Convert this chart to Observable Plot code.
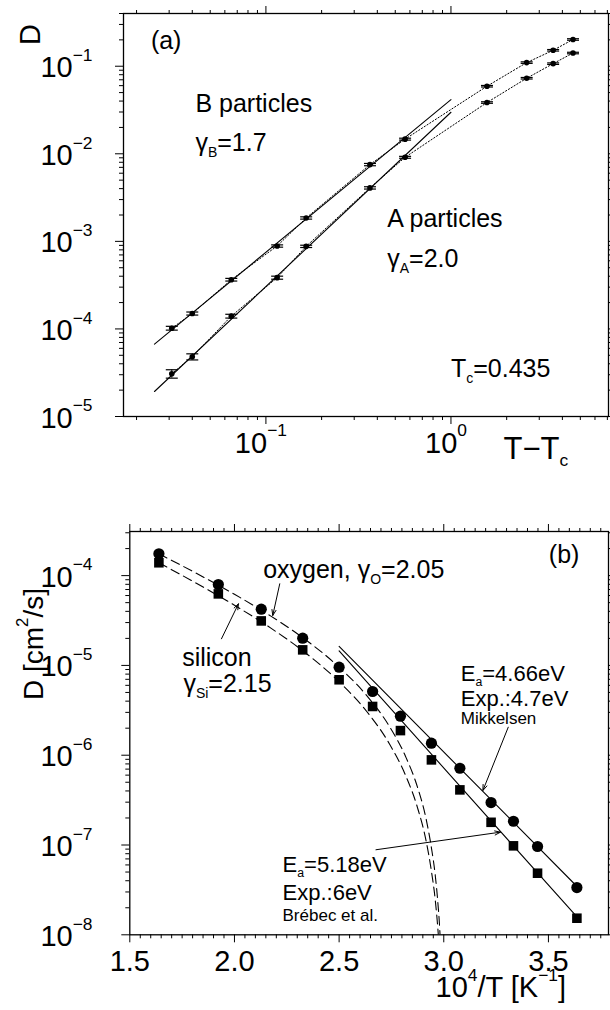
<!DOCTYPE html>
<html><head><meta charset="utf-8">
<script src="https://cdn.jsdelivr.net/npm/d3@7"></script>
<script src="https://cdn.jsdelivr.net/npm/@observablehq/plot@0.6"></script>
<style>
html,body{margin:0;padding:0;background:#fff;}
#fig{position:relative;width:610px;height:1010px;overflow:hidden;background:#fff;}
#fig svg{position:absolute;left:0;}
</style></head><body><div id="fig"></div>
<script>
// ---------------- Panel (a) data ----------------
const tMinusTc = [0.031, 0.040, 0.065, 0.115, 0.165, 0.365, 0.565, 1.565, 2.565, 3.565, 4.565];
const dB = [1.02e-4, 1.50e-4, 3.65e-4, 8.85e-4, 1.85e-3, 7.53e-3, 1.47e-2, 0.0591, 0.110, 0.152, 0.202];
const dA = [3.08e-5, 4.81e-5, 1.40e-4, 3.85e-4, 8.77e-4, 4.08e-3, 9.12e-3, 0.0385, 0.0729, 0.107, 0.1415];
const errB = [0.05, 0.04, 0.035, 0.03, 0.03, 0.03, 0.025, 0.02, 0.02, 0.02, 0.02];
const errA = [0.11, 0.08, 0.05, 0.04, 0.03, 0.03, 0.025, 0.02, 0.02, 0.02, 0.02];
const fitBx = [0.025, 1.0], fitBy = [6.7e-5, 0.0416];
const fitAx = [0.025, 1.0], fitAy = [1.93e-5, 0.0298];
const majorXa = [0.1, 1];
const majorYa = [1e-5, 1e-4, 1e-3, 1e-2, 1e-1];

// ---------------- Panel (b) data ----------------
const invT = [1.639, 1.923, 2.128, 2.326, 2.5, 2.66, 2.793, 2.941, 3.077, 3.226, 3.333, 3.448, 3.636];
const dO  = [1.75e-4, 7.96e-5, 4.23e-5, 2.01e-5, 9.55e-6, 5.12e-6, 2.72e-6, 1.36e-6, 7.16e-7, 2.97e-7, 1.84e-7, 9.62e-8, 3.36e-8];
const dSi = [1.39e-4, 6.26e-5, 3.13e-5, 1.49e-5, 6.92e-6, 3.49e-6, 1.88e-6, 8.87e-7, 4.11e-7, 1.79e-7, 9.79e-8, 4.85e-8, 1.53e-8];
const curveX  = [1.639, 1.818, 2.0, 2.174, 2.326, 2.5, 2.632, 2.740, 2.817, 2.874, 2.916, 2.941, 2.959, 2.972, 2.981, 2.985];
const curveO  = [1.75e-4, 1.061e-4, 6.20e-5, 3.54e-5, 2.04e-5, 9.54e-6, 4.61e-6, 2.10e-6, 9.73e-7, 4.44e-7, 1.93e-7, 9.30e-8, 4.67e-8, 2.25e-8, 1.13e-8, 7.1e-9];
const curveSi = [1.39e-4, 8.22e-5, 4.68e-5, 2.60e-5, 1.457e-5, 6.57e-6, 3.07e-6, 1.341e-6, 6.00e-7, 2.63e-7, 1.10e-7, 5.11e-8, 2.48e-8, 1.15e-8, 5.6e-9, 3.5e-9];
const arrFitOx = [2.5, 3.645], arrFitOy = [1.63e-5, 3.3e-8];
const arrFitSix = [2.5, 3.645], arrFitSiy = [1.45e-5, 1.5e-8];
const majorXb = [1.5, 2.0, 2.5, 3.0, 3.5];
const majorYb = [1e-8, 1e-7, 1e-6, 1e-5, 1e-4];

// ---------------- helpers ----------------
const FONT = "'Liberation Sans', Arial, Helvetica, sans-serif";
const MINUS = "\u2212";
const expLabel = d => { const e = Math.round(Math.log10(d)); return `10^{${e < 0 ? MINUS + (-e) : e}}`; };
const logMinor = (e0, e1, extra) => {
  const out = [];
  for (let e = e0; e <= e1; e++) for (let k = 2; k <= 9; k++) out.push(+(k * 10 ** e).toPrecision(3));
  return out.concat(extra || []);
};
const hbar = {draw(ctx, size) { const r = Math.sqrt(size / Math.PI); ctx.moveTo(-r, 0); ctx.lineTo(r, 0); }};

function frameTicks(majX, minX, majY, minY) {
  const m = [];
  const blank = () => "";
  for (const anchor of ["bottom", "top"]) {
    m.push(Plot.axisX({anchor, ticks: majX, tickSize: 8, tickFormat: blank, label: null}));
    m.push(Plot.axisX({anchor, ticks: minX, tickSize: 4, tickFormat: blank, label: null}));
  }
  for (const anchor of ["left", "right"]) {
    m.push(Plot.axisY({anchor, ticks: majY, tickSize: 8, tickFormat: blank, label: null}));
    m.push(Plot.axisY({anchor, ticks: minY, tickSize: 4, tickFormat: blank, label: null}));
  }
  return m;
}

function richText(root) {
  root.querySelectorAll("text").forEach(t => {
    const s = t.textContent;
    if (!/[\^_]\{/.test(s)) return;
    const fs = parseFloat(getComputedStyle(t).fontSize);
    const parts = [];
    const re = /([\^_])\{([^}]*)\}/g; let last = 0, mm;
    while ((mm = re.exec(s))) {
      if (mm.index > last) parts.push({t: s.slice(last, mm.index), k: 0});
      parts.push({t: mm[2], k: mm[1] === "^" ? 1 : -1});
      last = re.lastIndex;
    }
    if (last < s.length) parts.push({t: s.slice(last), k: 0});
    t.textContent = "";
    let cur = 0;
    for (const p of parts) {
      const ts = document.createElementNS("http://www.w3.org/2000/svg", "tspan");
      const off = p.k === 1 ? -0.56 * fs : p.k === -1 ? 0.24 * fs : 0;
      ts.setAttribute("dy", (off - cur).toFixed(2));
      cur = off;
      if (p.k === 1) ts.setAttribute("font-size", (0.6 * fs).toFixed(1));
      if (p.k === -1) ts.setAttribute("font-size", (0.56 * fs).toFixed(1));
      ts.textContent = p.t;
      t.appendChild(ts);
    }
  });
}

// ---------------- Panel (a) ----------------
const ptsB = tMinusTc.map((x, i) => ({x, y: dB[i], lo: dB[i] * (1 - errB[i]), hi: dB[i] * (1 + errB[i])}));
const ptsA = tMinusTc.map((x, i) => ({x, y: dA[i], lo: dA[i] * (1 - errA[i]), hi: dA[i] * (1 + errA[i])}));
const fitB = fitBx.map((x, i) => ({x, y: fitBy[i]}));
const fitA = fitAx.map((x, i) => ({x, y: fitAy[i]}));

const labelsA = [
  {x: 0.0239, y: 0.159, t: "(a)"},
  {x: 0.0416, y: 0.0298, t: "B particles"},
  {x: 0.0416, y: 0.0109, t: "γ_{B}=1.7"},
  {x: 0.4527, y: 1.445e-3, t: "A particles"},
  {x: 0.4527, y: 5.05e-4, t: "γ_{A}=2.0"},
  {x: 1.0, y: 2.79e-5, t: "T_{c}=0.435"}
];

const errMarks = pts => [
  Plot.ruleX(pts, {x: "x", y1: "lo", y2: "hi", stroke: "black", strokeWidth: 1}),
  Plot.dot(pts, {x: "x", y: "lo", symbol: hbar, r: 6, stroke: "black", fill: "none", strokeWidth: 1.2}),
  Plot.dot(pts, {x: "x", y: "hi", symbol: hbar, r: 6, stroke: "black", fill: "none", strokeWidth: 1.2}),
  Plot.dot(pts, {x: "x", y: "y", r: 2.8, fill: "black", stroke: "none"})
];

const svgA = Plot.plot({
  width: 610, height: 490,
  marginLeft: 123, marginRight: 2, marginTop: 13, marginBottom: 74,
  style: {fontFamily: FONT, fontSize: "25px", background: "transparent", color: "black", overflow: "visible"},
  x: {type: "log", domain: [0.017, 7.1], label: null},
  y: {type: "log", domain: [1e-5, 0.4], label: null},
  marks: [
    ...frameTicks(majorXa, [...logMinor(-2, 0, [])].filter(v => v < 7.1 && v > 0.017), majorYa, logMinor(-5, -2, [0.2, 0.3, 0.4])),
    Plot.frame({stroke: "black", strokeWidth: 1.3}),
    Plot.line(ptsB, {x: "x", y: "y", stroke: "black", strokeWidth: 1, strokeDasharray: "1.3,2"}),
    Plot.line(ptsA, {x: "x", y: "y", stroke: "black", strokeWidth: 1, strokeDasharray: "1.3,2"}),
    Plot.line(fitB, {x: "x", y: "y", stroke: "black", strokeWidth: 1.1}),
    Plot.line(fitA, {x: "x", y: "y", stroke: "black", strokeWidth: 1.1}),
    ...errMarks(ptsB), ...errMarks(ptsA),
    Plot.text(labelsA, {x: "x", y: "y", text: "t", textAnchor: "start", lineAnchor: "bottom", fontSize: 25}),
    Plot.text(majorXa, {x: d => d, text: expLabel, frameAnchor: "bottom", lineAnchor: "bottom", dy: 36, dx: -5, fontSize: 29}),
    Plot.text(majorYa, {y: d => d, text: expLabel, frameAnchor: "left", textAnchor: "end", lineAnchor: "bottom", dx: -31, dy: 11, fontSize: 29}),
    Plot.text(["D"], {frameAnchor: "top-left", dx: -84, dy: 21, rotate: -90, textAnchor: "middle", lineAnchor: "bottom", fontSize: 29}),
    Plot.text(["T" + MINUS + "T_{c}"], {frameAnchor: "bottom-left", dx: 380, dy: 42.5, textAnchor: "start", lineAnchor: "bottom", fontSize: 31})
  ]
});
svgA.style.top = "0px";

// ---------------- Panel (b) ----------------
const ox = invT.map((x, i) => ({x, y: dO[i]}));
const si = invT.map((x, i) => ({x, y: dSi[i]}));
const cO = curveX.map((x, i) => ({x, y: curveO[i]}));
const cSi = curveX.map((x, i) => ({x, y: curveSi[i]}));
const fO = arrFitOx.map((x, i) => ({x, y: arrFitOy[i]}));
const fSi = arrFitSix.map((x, i) => ({x, y: arrFitSiy[i]}));

const labelsB = [
  {x: 3.502, y: 1.40e-4, t: "(b)", s: 25},
  {x: 2.137, y: 9.5e-5, t: "oxygen, γ_{O}=2.05", s: 25},
  {x: 1.750, y: 9.97e-6, t: "silicon", s: 25},
  {x: 1.756, y: 5.04e-6, t: "γ_{Si}=2.15", s: 25},
  {x: 3.081, y: 6.79e-6, t: "E_{a}=4.66eV", s: 22},
  {x: 3.081, y: 3.57e-6, t: "Exp.:4.7eV", s: 22},
  {x: 3.081, y: 2.24e-6, t: "Mikkelsen", s: 17},
  {x: 2.2296, y: 4.98e-8, t: "E_{a}=5.18eV", s: 22},
  {x: 2.2296, y: 2.41e-8, t: "Exp.:6eV", s: 22},
  {x: 2.2296, y: 1.44e-8, t: "Brébec et al.", s: 17}
];
const arrowsB = [
  {x1: 2.2164, y1: 8.11e-5, x2: 2.183, y2: 3.60e-5},
  {x1: 1.938, y1: 1.98e-5, x2: 2.019, y2: 4.85e-5},
  {x1: 3.308, y1: 2.05e-6, x2: 3.187, y2: 4.05e-7},
  {x1: 2.676, y1: 8.85e-8, x2: 3.271, y2: 1.39e-7}
];
const minorXb = [];
for (let v = 1.55; v < 3.79; v += 0.05) { const r = Math.round(v * 100) / 100; if (Math.round(r * 100) % 50 !== 0) minorXb.push(r); }

const svgB = Plot.plot({
  width: 610, height: 520,
  marginLeft: 129.3, marginRight: 2, marginTop: 41, marginBottom: 75.7,
  style: {fontFamily: FONT, fontSize: "25px", background: "transparent", color: "black", overflow: "visible"},
  x: {domain: [1.5, 3.787], label: null},
  y: {type: "log", domain: [1e-8, 3.1e-4], label: null},
  marks: [
    ...frameTicks(majorXb, minorXb, majorYb, logMinor(-8, -5, [2e-4, 3e-4])),
    Plot.frame({stroke: "black", strokeWidth: 1.3}),
    Plot.line(cO, {x: "x", y: "y", curve: "monotone-x", stroke: "black", strokeWidth: 1.1, strokeDasharray: "9,5", clip: true}),
    Plot.line(cSi, {x: "x", y: "y", curve: "monotone-x", stroke: "black", strokeWidth: 1.1, strokeDasharray: "9,5", clip: true}),
    Plot.line(fO, {x: "x", y: "y", stroke: "black", strokeWidth: 1.1}),
    Plot.line(fSi, {x: "x", y: "y", stroke: "black", strokeWidth: 1.1}),
    Plot.dot(ox, {x: "x", y: "y", r: 5.6, fill: "black", stroke: "none"}),
    Plot.dot(si, {x: "x", y: "y", r: 5.4, symbol: "square", fill: "black", stroke: "none"}),
    Plot.arrow(arrowsB, {x1: "x1", y1: "y1", x2: "x2", y2: "y2", stroke: "black", strokeWidth: 1, headLength: 9, headAngle: 40}),
    Plot.text(labelsB, {x: "x", y: "y", text: "t", fontSize: d => d.s, textAnchor: "start", lineAnchor: "bottom"}),
    Plot.text(majorXb, {x: d => d, text: d => d.toFixed(1), frameAnchor: "bottom", lineAnchor: "bottom", dy: 36.4, fontSize: 29}),
    Plot.text(majorYb, {y: d => d, text: expLabel, frameAnchor: "left", textAnchor: "end", lineAnchor: "bottom", dx: -37.3, dy: 11, fontSize: 29}),
    Plot.text(["D [cm^{2}/s]"], {frameAnchor: "top-left", dx: -86.5, dy: 112.5, rotate: -90, textAnchor: "middle", lineAnchor: "bottom", fontSize: 28}),
    Plot.text(["10^{4}/T [K^{" + MINUS + "1}]"], {frameAnchor: "bottom-left", dx: 305.7, dy: 62.4, textAnchor: "start", lineAnchor: "bottom", fontSize: 29})
  ]
});
svgB.style.top = "490px";

const fig = document.getElementById("fig");
fig.appendChild(svgA);
fig.appendChild(svgB);
richText(fig);
</script></body></html>
